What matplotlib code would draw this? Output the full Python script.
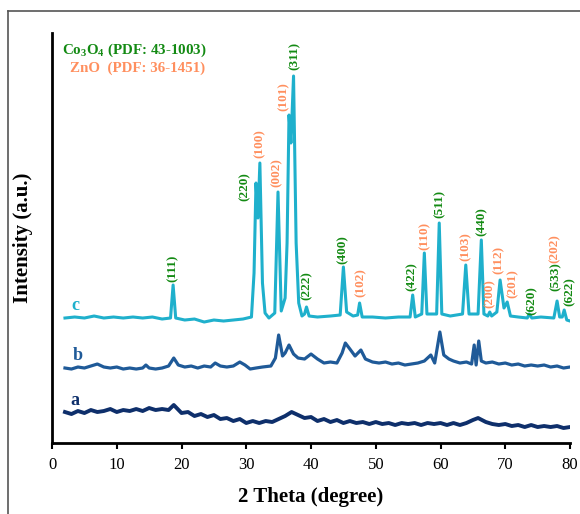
import numpy as np
import matplotlib.pyplot as plt
from matplotlib.lines import Line2D

plt.rcParams['font.family'] = ['Liberation Serif', 'DejaVu Serif']
plt.rcParams['mathtext.fontset'] = 'custom'
plt.rcParams['mathtext.rm'] = 'Liberation Serif:bold'
plt.rcParams['mathtext.it'] = 'Liberation Serif:bold'
plt.rcParams['mathtext.bf'] = 'Liberation Serif:bold'

# sample a
a_x = [2, 3, 4, 5, 6, 7, 8, 9, 10, 11, 12, 13, 14, 15, 16, 17, 18, 18.8, 20, 21,
       22, 23, 24, 25, 26, 27, 28, 29, 30, 31, 32, 33, 34, 35, 36, 37, 38, 39, 40, 41,
       42, 43, 44, 45, 46, 47, 48, 49, 50, 51, 52, 53, 54, 55, 56, 57, 58, 59, 60, 61,
       62, 63, 64, 65, 65.8, 67, 68, 69, 70, 71, 72, 73, 74, 75, 76, 77, 78, 79, 80]
a_y = [31, 29, 32, 30, 33, 31, 32, 34, 31, 33, 32, 34, 32, 35, 33, 34, 33, 38, 30, 31,
       27, 29, 26, 28, 24, 25, 22, 24, 20, 22, 20, 22, 21, 24, 27, 31, 28, 25, 26, 22,
       24, 21, 23, 20, 22, 20, 21, 19, 21, 19, 20, 18, 20, 19, 20, 18, 20, 19, 20, 18,
       20, 18, 20, 23, 25, 21, 19, 18, 19, 17, 18, 16, 18, 16, 17, 16, 17, 15, 16]

# sample b
b_x = [2, 3, 4, 5, 6, 7, 8, 9, 10, 11, 12, 13, 14, 14.5, 15, 16, 17, 18, 18.8, 19.5,
       20.5, 21.5, 22.5, 23.5, 24.5, 25.2, 26, 27, 28, 29, 29.8, 30.6, 31.5, 32.5, 33.8,
       34.5, 35.0, 35.6, 36.0, 36.6, 37.3, 38.0, 39.0, 40.0, 41.0, 42.0, 43.0, 44.0, 44.8,
       45.3, 46.0, 46.8, 47.7, 48.4, 49.5, 50.5, 51.5, 52.5, 53.5, 54.5, 55.5, 56.5, 57.5,
       58.5, 59.1, 59.9, 60.5, 61.3, 62, 63, 64, 64.8, 65.2, 65.5, 65.9, 66.3, 67, 68, 69,
       70, 71, 72, 73, 74, 75, 76, 77, 78, 79, 80]
b_y = [75, 74, 76, 75, 77, 79, 76, 75, 76, 74, 75, 74, 75, 78, 75, 74, 75, 77, 85, 78,
       76, 77, 75, 77, 76, 80, 77, 76, 77, 81, 78, 74, 75, 76, 77,
       85, 108, 87, 90, 98, 89, 85, 84, 89, 84, 80, 81, 80, 90,
       100, 94, 87, 93, 84, 81, 80, 81, 79, 80, 78, 79, 80, 82,
       88, 80, 111, 88, 84, 82, 80, 81, 79, 98, 78, 102, 82, 80, 81, 79,
       80, 78, 79, 77, 78, 77, 78, 76, 77, 75, 76]

# sample c
c_x = [2, 3.5, 5, 6.5, 8, 9.5, 11, 12.5, 14, 15.5, 17, 18.3, 18.7, 19.1, 20.5, 22, 23.5,
       25, 26.5, 28, 29.5, 30.8, 31.2, 31.5, 31.8, 32.1, 32.5, 32.9, 33.5, 34.4, 34.9,
       35.4, 36.0, 36.3, 36.6, 36.9, 37.3, 37.7, 38.1, 38.6, 39.0, 39.3, 39.7, 41, 43,
       44.5, 45.0, 45.5, 46.5, 47.2, 47.5, 47.9, 49.5, 51.5, 53.5, 55.3, 55.7, 56.1, 57.1,
       57.5, 57.9, 59.4, 59.8, 60.2, 61.5, 63.4, 63.9, 64.4, 65.8, 66.3, 66.7, 67.3, 67.6,
       67.9, 68.7, 69.2, 69.8, 70.3, 70.8, 72, 73.4, 73.7, 74.1, 75.5, 77.5, 78.0, 78.4,
       78.8, 79.1, 79.5, 80.0]
c_y = [125, 126, 125, 127, 125, 126, 125, 126, 125, 126, 124, 125, 158, 125, 123, 124, 121,
       123, 122, 123, 124, 126, 170, 260, 225, 280, 160, 130, 125, 130, 251,
       132, 145, 200, 328, 300, 367, 200, 140, 127, 129, 136, 127, 126, 127,
       128, 176, 131, 127, 128, 140, 126, 126, 125, 126, 126, 148, 126, 129,
       190, 129, 129, 220, 129, 127, 129, 178, 129, 129, 203, 129, 127, 131,
       127, 131, 163, 135, 141, 127, 126, 125, 129, 125, 126, 125, 142, 126,
       126, 133, 123, 122]

# reflection labels: hkl, label x, label y, phase
hkl = ['(111)', '(220)', '(100)', '(002)', '(101)', '(311)', '(222)', '(400)', '(102)',
       '(422)', '(110)', '(511)', '(103)', '(440)', '(200)', '(112)', '(201)', '(620)',
       '(533)', '(202)', '(622)']
hkl_x = [18.7, 29.8, 32.1, 34.7, 35.7, 37.5, 39.4, 44.9, 47.6, 55.6, 57.5, 59.8, 63.9,
         66.3, 67.6, 69.0, 71.2, 74.0, 77.8, 77.7, 80.0]
hkl_y = [175, 256, 299, 270, 346, 387, 157, 193, 160, 166, 207, 239, 196, 221, 149,
         183, 159, 142, 166, 194, 151]
phase = ['Co', 'Co', 'Zn', 'Zn', 'Zn', 'Co', 'Co', 'Co', 'Zn', 'Co', 'Zn', 'Co', 'Zn',
         'Co', 'Zn', 'Zn', 'Zn', 'Co', 'Co', 'Zn', 'Co']

green = '#138a13'
orange = '#ff8f5e'
col_a, col_b, col_c = '#0e2f6b', '#1f5a98', '#1fb0cc'

fig = plt.figure(figsize=(5.8, 5.14), dpi=100)
ax = fig.add_axes([0.0897, 0.1381, 0.8931, 0.7977])

ax.plot(a_x, a_y, color=col_a, lw=2.8)
ax.plot(b_x, b_y, color=col_b, lw=2.3)
ax.plot(c_x, c_y, color=col_c, lw=2.2)

ax.text(3.6, 43, 'a', color=col_a, fontsize=13, fontweight='bold', ha='center', va='center')
ax.text(3.9, 88, 'b', color=col_b, fontsize=13, fontweight='bold', ha='center', va='center')
ax.text(3.6, 138, 'c', color=col_c, fontsize=13, fontweight='bold', ha='center', va='center')

for lab, x, y, p in zip(hkl, hkl_x, hkl_y, phase):
    ax.text(x, y, lab, rotation=90, color=green if p == 'Co' else orange,
            fontsize=9.5, fontweight='bold', ha='center', va='center')

ax.text(1.6, 393, r'$\mathregular{Co_3O_4}$ (PDF: 43-1003)', color=green,
        fontsize=10.8, fontweight='bold', ha='left', va='center')
ax.text(2.8, 375, 'ZnO  (PDF: 36-1451)', color=orange,
        fontsize=10.8, fontweight='bold', ha='left', va='center')

ax.set_xlim(0, 80)
ax.set_ylim(0, 410)
ax.set_xticks(range(0, 81, 10))
ax.set_yticks([])
ax.spines['top'].set_visible(False)
ax.spines['right'].set_visible(False)
ax.spines['left'].set_linewidth(2)
ax.spines['bottom'].set_linewidth(2)
ax.tick_params(axis='x', direction='out', length=4, width=1.5, labelsize=12, pad=6)
ax.set_xlabel('2 Theta (degree)', fontsize=15, fontweight='bold', labelpad=10)
ax.set_ylabel('Intensity (a.u.)', fontsize=15, fontweight='bold', labelpad=14)

# outer frame
fig.add_artist(Line2D([8 / 580, 1.0], [1 - 11 / 514] * 2, color='#555555', lw=1.2))
fig.add_artist(Line2D([8 / 580] * 2, [0.0, 1 - 11 / 514], color='#555555', lw=1.2))

fig.savefig('out.png', dpi=100)
